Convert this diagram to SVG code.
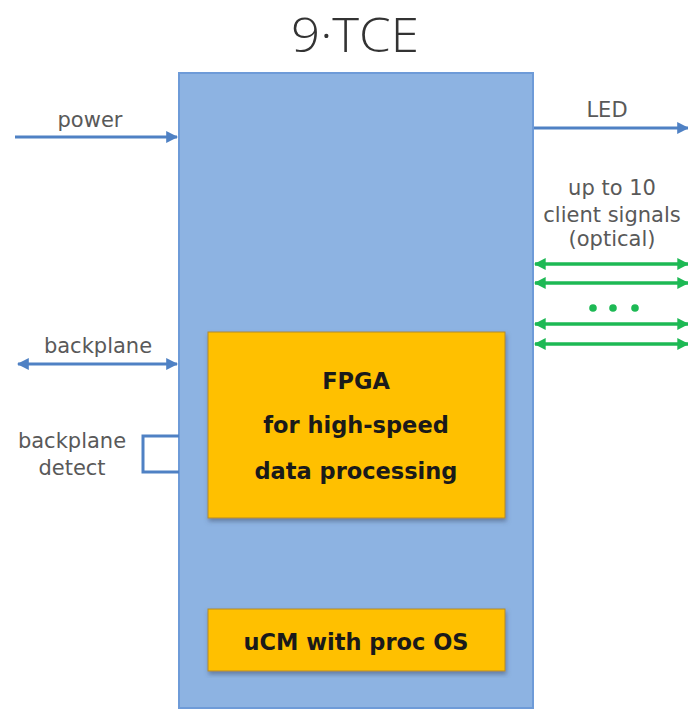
<svg xmlns="http://www.w3.org/2000/svg" width="688" height="710" viewBox="0 0 688 710">
<style>
.lbl{font-family:"DejaVu Sans",Verdana,sans-serif;font-size:21px;fill:#595959;text-anchor:middle}
.box{font-family:"DejaVu Sans",Verdana,sans-serif;font-size:22.5px;font-weight:bold;fill:#1a1a1a;text-anchor:middle}
.blue{stroke:#4F81C4;stroke-width:3;fill:none}
.green{stroke:#1DB954;stroke-width:3.5;fill:none;marker-start:url(#ga);marker-end:url(#ga)}
.chip{fill:#FFC000;stroke:#B08A30;stroke-width:1;filter:url(#sh)}
</style>
<defs>
<marker id="ba" viewBox="0 0 10 10" refX="9" refY="5" markerWidth="4" markerHeight="4" orient="auto-start-reverse"><path d="M0,0 L10,5 L0,10 z" fill="#4F81C4"/></marker>
<marker id="ga" viewBox="0 0 10 10" refX="9" refY="5" markerWidth="3.4" markerHeight="3.4" orient="auto-start-reverse"><path d="M0,0 L10,5 L0,10 z" fill="#1DB954"/></marker>
<filter id="sh" x="-5%" y="-5%" width="110%" height="115%"><feDropShadow dx="1" dy="3" stdDeviation="2" flood-color="#3a4a66" flood-opacity="0.5"/></filter>
</defs>
<text x="355" y="52" font-family="'Open Sans','Liberation Sans',sans-serif" font-weight="300" font-size="48" fill="#333" text-anchor="middle" textLength="128" lengthAdjust="spacingAndGlyphs">9·TCE</text>
<g id="main"><rect x="179" y="73" width="354" height="635" fill="#8DB3E2" stroke="#6E9BD8" stroke-width="2"/></g>
<g id="fpga"><rect class="chip" x="208" y="332" width="297" height="186"/>
<text class="box" x="356" y="389">FPGA</text>
<text class="box" x="356" y="433">for high-speed</text>
<text class="box" x="356" y="479">data processing</text></g>
<g id="ucm"><rect class="chip" x="208" y="609" width="297" height="62"/>
<text class="box" x="356" y="650">uCM with proc OS</text></g>
<g id="labels">
<text class="lbl" x="90" y="127">power</text>
<text class="lbl" x="607" y="117">LED</text>
<text class="lbl" x="612" y="195">up to 10</text>
<text class="lbl" x="612" y="222">client signals</text>
<text class="lbl" x="612" y="246">(optical)</text>
<text class="lbl" x="98" y="353">backplane</text>
<text class="lbl" x="72" y="448">backplane</text>
<text class="lbl" x="72" y="475">detect</text>
</g>
<g id="connectors">
<line class="blue" x1="15" y1="137" x2="177" y2="137" marker-end="url(#ba)"/>
<line class="blue" x1="534" y1="128" x2="688" y2="128" marker-end="url(#ba)"/>
<line class="blue" x1="18" y1="364" x2="177" y2="364" marker-start="url(#ba)" marker-end="url(#ba)"/>
<path class="blue" d="M179,436 H143 V472 H179"/>
<line class="green" x1="535" y1="264" x2="688" y2="264"/>
<line class="green" x1="535" y1="283" x2="688" y2="283"/>
<line class="green" x1="535" y1="324" x2="688" y2="324"/>
<line class="green" x1="535" y1="344" x2="688" y2="344"/>
<g fill="#1DB954"><circle cx="593" cy="308" r="3.8"/><circle cx="613" cy="308" r="3.8"/><circle cx="635" cy="308" r="3.8"/></g>
</g>
</svg>
